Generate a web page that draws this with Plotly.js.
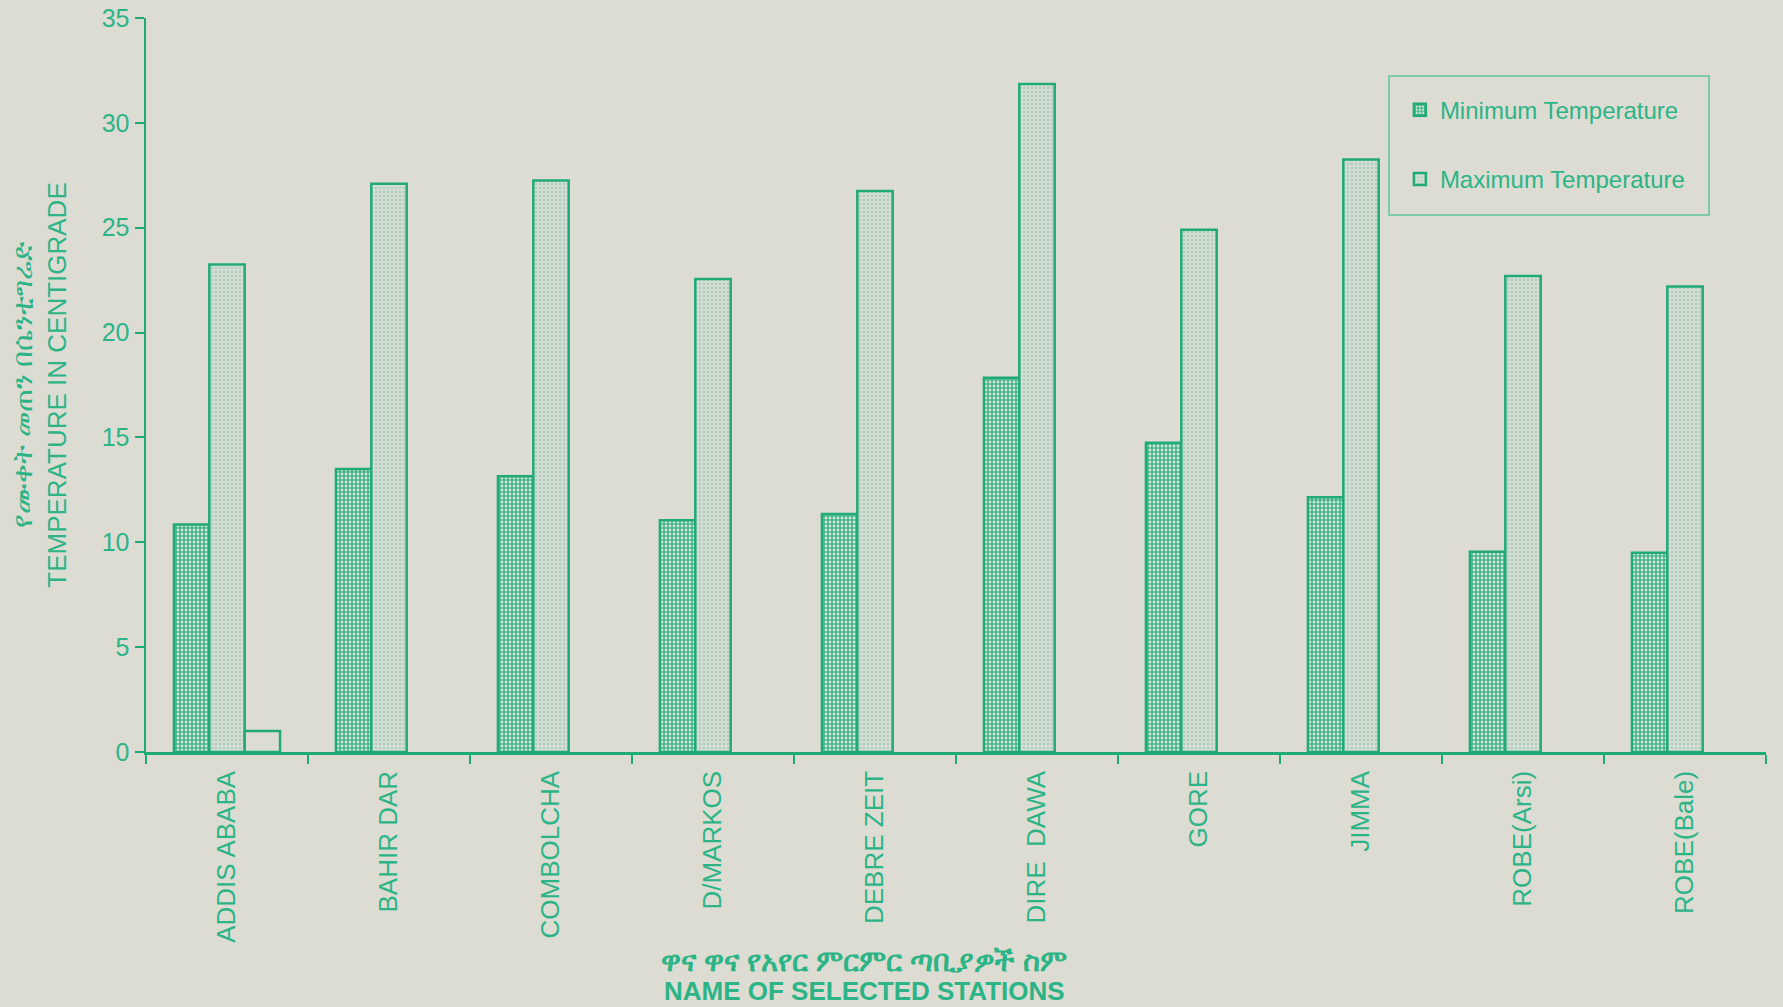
<!DOCTYPE html>
<html>
<head>
<meta charset="utf-8">
<script src="https://cdn.plot.ly/plotly-3.0.1.min.js"></script>
<style>
  html, body { margin: 0; padding: 0; background: #dcdcd2; }
  #chart { width: 1783px; height: 1007px; }
</style>
</head>
<body>
<div id="chart"></div>
<script>
// ---- data ----
const stations = ["ADDIS ABABA", "BAHIR DAR", "COMBOLCHA", "D/MARKOS", "DEBRE ZEIT",
                  "DIRE  DAWA", "GORE", "JIMMA", "ROBE(Arsi)", "ROBE(Bale)"];
const minTemp = [10.85, 13.5, 13.15, 11.05, 11.35, 17.85, 14.75, 12.15, 9.55, 9.5];
const maxTemp = [23.25, 27.1, 27.25, 22.55, 26.75, 31.85, 24.9, 28.25, 22.7, 22.2];
const thirdSeries = [1.0, null, null, null, null, null, null, null, null, null];
const yTickVals = [0, 5, 10, 15, 20, 25, 30, 35];

const xTitleAmharic = 'ዋና ዋና የአየር ምርምር ጣቢያዎች ስም';
const xTitleEnglish = 'NAME OF SELECTED STATIONS';
const yTitleAmharic = 'የሙቀት መጠን በሴንቲግሬድ';
const yTitleEnglish = 'TEMPERATURE IN CENTIGRADE';

const GREEN = '#1faa78';
const TEXTGREEN = '#2cb487';
const BG = '#dcdcd2';
const FONT = 'Liberation Sans, Arial, Noto Sans, DejaVu Sans, sans-serif';

const traces = [
  {
    type: 'bar', name: 'Minimum Temperature', x: stations, y: minTemp,
    legendgroup: 'min',
    marker: {
      color: '#c6dfcf',
      line: {color: GREEN, width: 2.5},
      pattern: {shape: '+', fgcolor: '#1fa774', bgcolor: '#d3e5d8', size: 4, solidity: 0.5}
    }
  },
  {
    type: 'bar', name: 'Maximum Temperature', x: stations, y: maxTemp,
    legendgroup: 'max',
    marker: {
      color: '#d3ddd4',
      line: {color: GREEN, width: 2.5},
      pattern: {shape: '.', fgcolor: '#a9cdb7', bgcolor: '#d4ddd4', size: 4, solidity: 0.25}
    }
  },
  {
    type: 'bar', name: ' ', x: stations, y: thirdSeries, showlegend: false,
    marker: {color: BG, line: {color: GREEN, width: 2.5}}
  }
];

const layout = {
  width: 1783, height: 1007,
  paper_bgcolor: BG, plot_bgcolor: BG,
  margin: {l: 146, r: 17, t: 18, b: 255},
  barmode: 'group', bargap: 0.345, bargroupgap: 0,
  font: {family: FONT, color: TEXTGREEN, size: 24},
  showlegend: true,
  legend: {
    x: 0.774, y: 0.905, xanchor: 'left', yanchor: 'top',
    bgcolor: 'rgba(0,0,0,0)', borderwidth: 0,
    font: {size: 24, color: TEXTGREEN}, tracegroupgap: 35, traceorder: 'grouped',
    itemwidth: 30
  },
  xaxis: {
    type: 'category',
    showgrid: false, zeroline: false,
    showline: true, linecolor: GREEN, linewidth: 2.5,
    ticks: 'outside', tickson: 'boundaries', ticklen: 9, tickcolor: GREEN, tickwidth: 2,
    tickangle: -90, tickfont: {size: 26, color: TEXTGREEN},
    ticklabelstandoff: 6,
    automargin: false
  },
  yaxis: {
    range: [0, 35], tickvals: yTickVals,
    showgrid: false, zeroline: false,
    showline: true, linecolor: GREEN, linewidth: 2.5,
    ticks: 'outside', ticklen: 9, tickcolor: GREEN, tickwidth: 2,
    tickfont: {size: 25, color: TEXTGREEN},
    automargin: 'left',
    title: {
      text: '<span style="font-size:28px">' + yTitleAmharic + '</span><br>' + yTitleEnglish,
      font: {size: 26, color: TEXTGREEN},
      standoff: 28
    }
  },
  annotations: [
    {xref: 'paper', yref: 'paper', x: (864 - 146) / 1620, y: 1 - (961 - 18) / 734,
     xanchor: 'center', yanchor: 'middle', showarrow: false,
     text: '<b>' + xTitleAmharic + '</b>', font: {size: 29, color: TEXTGREEN}},
    {xref: 'paper', yref: 'paper', x: (864 - 146) / 1620, y: 1 - (991 - 18) / 734,
     xanchor: 'center', yanchor: 'middle', showarrow: false,
     text: '<b>' + xTitleEnglish + '</b>', font: {size: 26, color: TEXTGREEN}}
  ],
  shapes: [
    {type: 'rect', xref: 'paper', yref: 'paper',
     x0: (1389 - 146) / 1620, x1: (1709 - 146) / 1620,
     y0: 1 - (215 - 18) / 734, y1: 1 - (76 - 18) / 734,
     line: {color: '#5cc39a', width: 1.5}, fillcolor: 'rgba(0,0,0,0)'}
  ]
};

Plotly.newPlot('chart', traces, layout, {staticPlot: true, displayModeBar: false});
</script>
</body>
</html>
